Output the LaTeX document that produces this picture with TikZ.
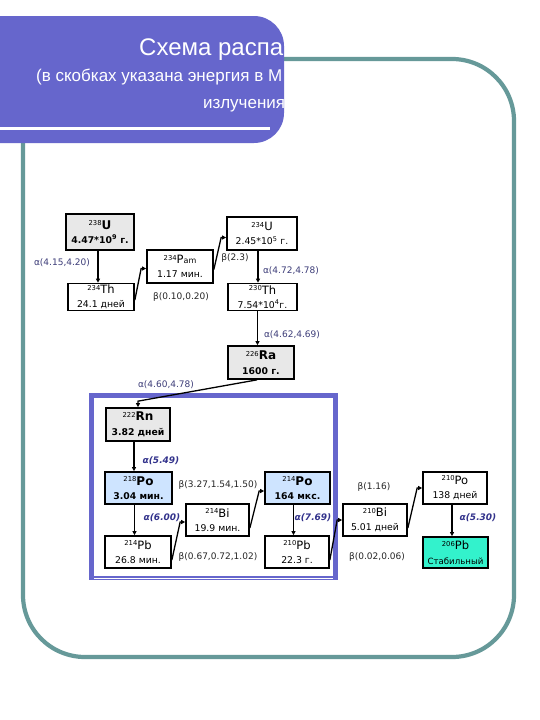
\documentclass[tikz,border=0pt]{standalone}
\usepackage{fontspec}
\setmainfont{DejaVu Sans}
\newfontfamily\titlefont{Liberation Sans}
\usetikzlibrary{calc,arrows.meta}

\definecolor{bannerblue}{RGB}{102,102,204}
\definecolor{frameteal}{RGB}{102,153,153}
\definecolor{boxgrey}{RGB}{232,232,232}
\definecolor{boxblue}{RGB}{206,228,255}
\definecolor{boxaqua}{RGB}{51,242,204}
\definecolor{alphacol}{RGB}{60,60,120}
\definecolor{alphabold}{RGB}{51,51,140}

\newcommand{\nucl}[2]{\raisebox{3.4pt}{\fontsize{6.8}{6.8}\selectfont #1}{\fontsize{11.5}{11.5}\selectfont #2}}
\newcommand{\nuclb}[2]{\raisebox{3.4pt}{\fontsize{6.8}{6.8}\selectfont #1}{\fontsize{12}{12}\selectfont\bfseries #2}}

\tikzset{
  nuc/.style={draw=black, line width=1.7pt, fill=white, inner sep=0pt, align=center,
    font=\fontsize{9.3}{14.5}\selectfont},
  lab/.style={inner sep=0pt, font=\fontsize{9}{9}\selectfont, text=black!85},
  alab/.style={lab, text=alphacol},
  aboldlab/.style={inner sep=0pt, font=\fontsize{9}{9}\selectfont\bfseries\itshape, text=alphabold},
  arr/.style={line width=1.3pt, -{Triangle[length=4pt,width=4pt]}},
  titletext/.style={inner sep=0pt, text=white},
}

\begin{document}
\begin{tikzpicture}[x=1pt,y=-1pt]
\useasboundingbox (0,0) rectangle (540,720);
\fill[white] (0,0) rectangle (540,720);

% teal frame
\draw[frameteal, line width=4.2pt, rounded corners=62pt] (23,59) rectangle (514,657);

% banner
\fill[bannerblue, rounded corners=30pt] (-40,16) rectangle (284,143);
\draw[white, line width=3pt] (0,128) -- (270,128);
\begin{scope}
  \clip[rounded corners=30pt] (-40,16) rectangle (284,143);
  \node[titletext, anchor=base west, font=\titlefont\fontsize{24}{24}\selectfont] (t1) at (139,55) {Схема распа};
  \node[titletext, anchor=base west, font=\titlefont\fontsize{17}{17}\selectfont] (t2) at (36,81) {(в скобках указана энергия в М};
  \node[titletext, anchor=base west, font=\titlefont\fontsize{17}{17}\selectfont] (t3) at (203,108) {излучения};
\end{scope}

% inner blue frame
\draw[bannerblue, line width=4.6pt] (91.5,395.5) rectangle (335.5,578);
\draw[white, line width=0.8pt] (94,578.3) -- (333,578.3);

% nodes
\node[nuc, fill=boxgrey, minimum width=68pt, minimum height=36pt] (U238) at (100,232)
  {\nuclb{238}{U}\\\textbf{4.47*10\textsuperscript{9} г.}};
\node[nuc, minimum width=66pt, minimum height=27pt] (Th234) at (101,297)
  {\nucl{234}{Th}\\24.1 дней};
\node[nuc, minimum width=66pt, minimum height=33pt] (Pa234) at (180,266.5)
  {\raisebox{3.4pt}{\fontsize{6.8}{6.8}\selectfont 234}{\fontsize{11.5}{11.5}\selectfont P}{\fontsize{8}{8}\selectfont am}\\1.17 мин.};
\node[nuc, minimum width=70pt, minimum height=33pt] (U234) at (262,233.5)
  {\nucl{234}{U}\\2.45*10\textsuperscript{5} г.};
\node[nuc, minimum width=69pt, minimum height=27pt] (Th230) at (262.5,297)
  {\nucl{230}{Th}\\7.54*10\textsuperscript{4}г.};
\node[nuc, fill=boxgrey, minimum width=66pt, minimum height=33pt] (Ra226) at (261,362.5)
  {\nuclb{226}{Ra}\\\textbf{1600 г.}};
\node[nuc, fill=boxgrey, minimum width=64pt, minimum height=33pt] (Rn222) at (138,424.5)
  {\nuclb{222}{Rn}\\\textbf{3.82 дней}};
\node[nuc, fill=boxblue, minimum width=67pt, minimum height=32pt] (Po218) at (138.5,488)
  {\nuclb{218}{Po}\\\textbf{3.04 мин.}};
\node[nuc, minimum width=66pt, minimum height=32pt] (Pb214) at (138,552)
  {\nucl{214}{Pb}\\26.8 мин.};
\node[nuc, minimum width=63pt, minimum height=32pt] (Bi214) at (217.5,520)
  {\nucl{214}{Bi}\\19.9 мин.};
\node[nuc, fill=boxblue, minimum width=65pt, minimum height=32pt] (Po214) at (297.5,488)
  {\nuclb{214}{Po}\\\textbf{164 мкс.}};
\node[nuc, minimum width=64pt, minimum height=32pt] (Pb210) at (297,552)
  {\nucl{210}{Pb}\\22.3 г.};
\node[nuc, minimum width=64pt, minimum height=32pt] (Bi210) at (375,520)
  {\nucl{210}{Bi}\\5.01 дней};
\node[nuc, minimum width=64pt, minimum height=32pt] (Po210) at (455,488)
  {\nucl{210}{Po}\\138 дней};
\node[nuc, fill=boxaqua, minimum width=65pt, minimum height=31pt] (Pb206) at (455.5,552.5)
  {\nucl{206}{Pb}\\{\fontsize{8.6}{8.6}\selectfont Стабильный}};

% arrows
\draw[arr] ($(U238.south)+(-2,0)$) -- ($(U238.south |- Th234.north)+(-2,0)$);
\draw[arr] ($(Th234.east)+(0,3)$) -- ($(Pa234.west)+(-5,2)$) -- ($(Pa234.west)+(0,2)$);
\draw[arr] ($(Pa234.east)+(0,3)$) -- ($(U234.west)+(-5,4)$) -- ($(U234.west)+(0,4)$);
\draw[arr] ($(U234.south)+(-4,0)$) -- ($(U234.south |- Th230.north)+(-4,0)$);
\draw[arr] ($(Th230.south)+(-5,0)$) -- ($(Th230.south |- Ra226.north)+(-5,0)$);
\draw[arr] ($(Ra226.south)+(-4,0)$) -- ($(Rn222.north)+(0,-6)$) -- (Rn222.north);
\draw[arr] ($(Rn222.south)+(-4,0)$) -- ($(Rn222.south |- Po218.north)+(-4,0)$);
\draw[arr] ($(Po218.south)+(-4,0)$) -- ($(Po218.south |- Pb214.north)+(-4,0)$);
\draw[arr] ($(Pb214.east)+(0,8)$) -- ($(Bi214.west)+(-5,2)$) -- ($(Bi214.west)+(0,2)$);
\draw[arr] ($(Bi214.east)+(0,8)$) -- ($(Po214.west)+(-5,3)$) -- ($(Po214.west)+(0,3)$);
\draw[arr] ($(Po214.south)+(-4,0)$) -- ($(Po214.south |- Pb210.north)+(-4,0)$);
\draw[arr] ($(Pb210.east)+(0,8)$) -- ($(Bi210.west)+(-5,0)$) -- (Bi210.west);
\draw[arr] ($(Bi210.east)+(0,8)$) -- ($(Po210.west)+(-5,0)$) -- (Po210.west);
\draw[arr] ($(Po210.south)+(-3,0)$) -- ($(Po210.south |- Pb206.north)+(-3,0)$);

% labels
\node[alab] (la1) at (62,263) {α(4.15,4.20)};
\node[lab] (lb1) at (181,297) {β(0.10,0.20)};
\node[lab] (lb2) at (235,258) {β(2.3)};
\node[alab] (la2) at (291,271) {α(4.72,4.78)};
\node[alab] (la3) at (292,335) {α(4.62,4.69)};
\node[alab] (la4) at (166,385) {α(4.60,4.78)};
\node[aboldlab] (la5) at (161,461) {α(5.49)};
\node[lab] (lb3) at (218,485) {β(3.27,1.54,1.50)};
\node[aboldlab] (la6) at (162,518) {α(6.00)};
\node[aboldlab] (la7) at (313,518) {α(7.69)};
\node[lab] (lb4) at (218,557) {β(0.67,0.72,1.02)};
\node[lab] (lb5) at (374,487) {β(1.16)};
\node[aboldlab] (la8) at (478,518) {α(5.30)};
\node[lab] (lb6) at (377,557) {β(0.02,0.06)};
\end{tikzpicture}
\end{document}
